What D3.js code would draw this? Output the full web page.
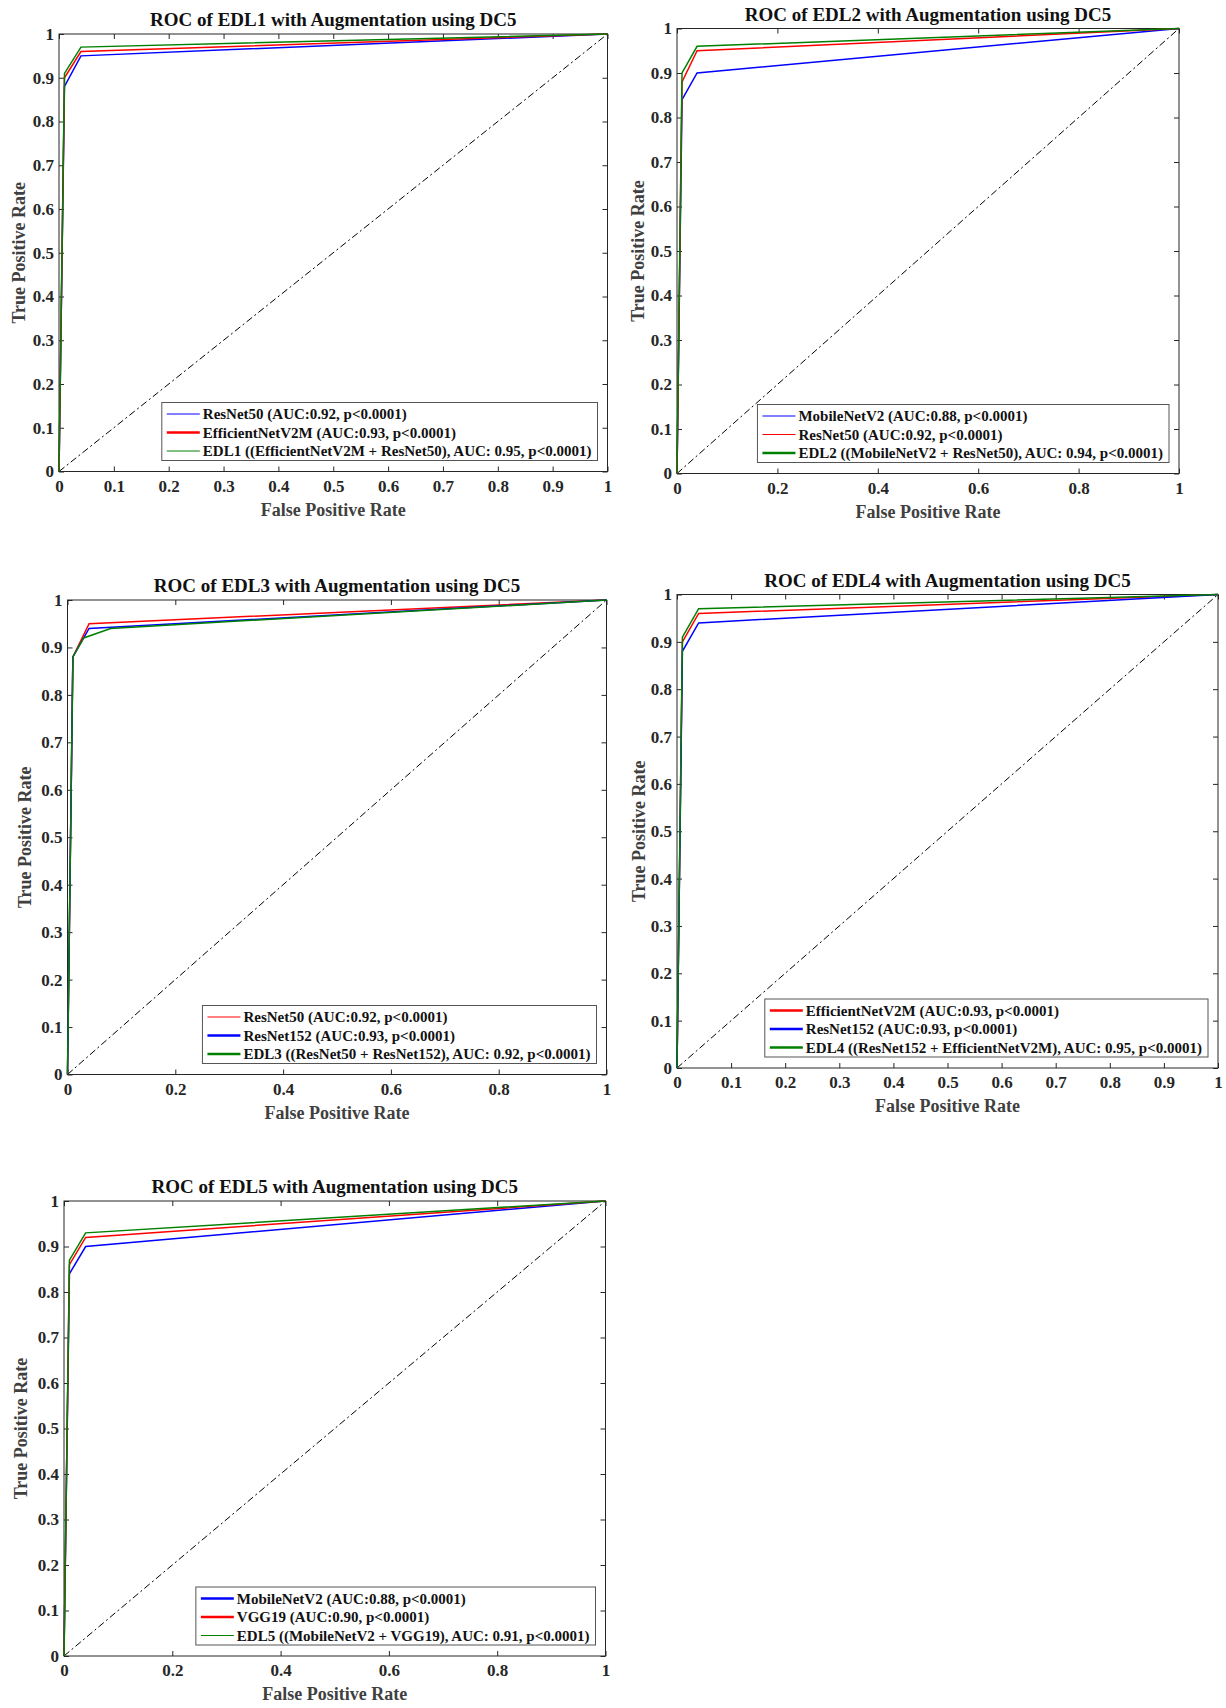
<!DOCTYPE html>
<html>
<head>
<meta charset="utf-8">
<script src="https://cdn.jsdelivr.net/npm/d3@7"></script>
<style>
body { margin: 0; background: #fff; }
svg { display: block; font-family: "Liberation Serif", "Times New Roman", serif; font-weight: bold; }
</style>
</head>
<body>
<script>
// ---- data ----
var titles = [
	'ROC of EDL1 with Augmentation using DC5',
	'ROC of EDL2 with Augmentation using DC5',
	'ROC of EDL3 with Augmentation using DC5',
	'ROC of EDL4 with Augmentation using DC5',
	'ROC of EDL5 with Augmentation using DC5'
]
var xTicksTenth = [0, 0.1, 0.2, 0.3, 0.4, 0.5, 0.6, 0.7, 0.8, 0.9, 1]
var xTicksFifth = [0, 0.2, 0.4, 0.6, 0.8, 1]
var yTicks = [0, 0.1, 0.2, 0.3, 0.4, 0.5, 0.6, 0.7, 0.8, 0.9, 1]
var diagonal = [[0, 0], [1, 1]]

var edl1Names = ['ResNet50 (AUC:0.92, p<0.0001)', 'EfficientNetV2M (AUC:0.93, p<0.0001)', 'EDL1 ((EfficientNetV2M + ResNet50), AUC: 0.95, p<0.0001)']
var edl1Fpr = [[0, 0.01, 0.04, 1], [0, 0.01, 0.04, 1], [0, 0.01, 0.04, 1]]
var edl1Tpr = [[0, 0.88, 0.95, 1], [0, 0.90, 0.96, 1], [0, 0.91, 0.97, 1]]

var edl2Names = ['MobileNetV2 (AUC:0.88, p<0.0001)', 'ResNet50 (AUC:0.92, p<0.0001)', 'EDL2 ((MobileNetV2 + ResNet50), AUC: 0.94, p<0.0001)']
var edl2Fpr = [[0, 0.01, 0.04, 1], [0, 0.01, 0.04, 1], [0, 0.01, 0.04, 1]]
var edl2Tpr = [[0, 0.84, 0.90, 1], [0, 0.88, 0.95, 1], [0, 0.90, 0.96, 1]]

var edl3Names = ['ResNet50 (AUC:0.92, p<0.0001)', 'ResNet152 (AUC:0.93, p<0.0001)', 'EDL3 ((ResNet50 + ResNet152), AUC: 0.92, p<0.0001)']
var edl3Fpr = [[0, 0.01, 0.04, 1], [0, 0.01, 0.04, 1], [0, 0.01, 0.03, 0.08, 1]]
var edl3Tpr = [[0, 0.88, 0.95, 1], [0, 0.88, 0.94, 1], [0, 0.88, 0.92, 0.94, 1]]

var edl4Names = ['EfficientNetV2M (AUC:0.93, p<0.0001)', 'ResNet152 (AUC:0.93, p<0.0001)', 'EDL4 ((ResNet152 + EfficientNetV2M), AUC: 0.95, p<0.0001)']
var edl4Fpr = [[0, 0.01, 0.04, 1], [0, 0.01, 0.04, 1], [0, 0.01, 0.04, 1]]
var edl4Tpr = [[0, 0.90, 0.96, 1], [0, 0.88, 0.94, 1], [0, 0.91, 0.97, 1]]

var edl5Names = ['MobileNetV2 (AUC:0.88, p<0.0001)', 'VGG19 (AUC:0.90, p<0.0001)', 'EDL5 ((MobileNetV2 + VGG19), AUC: 0.91, p<0.0001)']
var edl5Fpr = [[0, 0.01, 0.04, 1], [0, 0.01, 0.04, 1], [0, 0.01, 0.04, 1]]
var edl5Tpr = [[0, 0.84, 0.90, 1], [0, 0.86, 0.92, 1], [0, 0.87, 0.93, 1]]

// ---- layout ----
var BLUE = '#0000ff', RED = '#ff0000', GREEN = '#008000'
var panels = [
	{ title: titles[0], names: edl1Names, fpr: edl1Fpr, tpr: edl1Tpr, xt: xTicksTenth,
		l: 59, t: 34, r: 607.5, b: 471.5, colors: [BLUE, RED, GREEN], legW: [1, 2.5, 1], ylab: 40 },
	{ title: titles[1], names: edl2Names, fpr: edl2Fpr, tpr: edl2Tpr, xt: xTicksFifth,
		l: 677, t: 28.5, r: 1179, b: 473.5, colors: [BLUE, RED, GREEN], legW: [1, 1, 2.5], ylab: 39 },
	{ title: titles[2], names: edl3Names, fpr: edl3Fpr, tpr: edl3Tpr, xt: xTicksFifth,
		l: 67.5, t: 600, r: 606.5, b: 1074.5, colors: [RED, BLUE, GREEN], legW: [1, 2.5, 2.5], ylab: 43 },
	{ title: titles[3], names: edl4Names, fpr: edl4Fpr, tpr: edl4Tpr, xt: xTicksTenth,
		l: 677, t: 594.5, r: 1218, b: 1068, colors: [RED, BLUE, GREEN], legW: [2.5, 2.5, 2.5], ylab: 38 },
	{ title: titles[4], names: edl5Names, fpr: edl5Fpr, tpr: edl5Tpr, xt: xTicksFifth,
		l: 64, t: 1201, r: 605.5, b: 1656, colors: [BLUE, RED, GREEN], legW: [2.5, 2.5, 1], ylab: 43 }
]

var ink = '#262626'
var svg = d3.select('body').append('svg')
	.attr('width', 1226)
	.attr('height', 1708)

panels.forEach(function (p) {
	var w = p.r - p.l, h = p.b - p.t
	var x = d3.scaleLinear().domain([0, 1]).range([0, w])
	var y = d3.scaleLinear().domain([0, 1]).range([h, 0])
	var g = svg.append('g').attr('transform', 'translate(' + p.l + ',' + p.t + ')')

	var fmt = function (d) { return d3.format('')(+d.toFixed(1)) }

	// axes, ticks inward like MATLAB
	var xb = g.append('g').attr('transform', 'translate(0,' + h + ')')
		.call(d3.axisBottom(x).tickValues(p.xt).tickFormat(fmt).tickSizeInner(-5).tickSizeOuter(0).tickPadding(8))
	var xt = g.append('g')
		.call(d3.axisTop(x).tickValues(p.xt).tickFormat('').tickSizeInner(-5).tickSizeOuter(0))
	var yl = g.append('g')
		.call(d3.axisLeft(y).tickValues(yTicks).tickFormat(fmt).tickSizeInner(-5).tickSizeOuter(0).tickPadding(5))
	var yr = g.append('g').attr('transform', 'translate(' + w + ',0)')
		.call(d3.axisRight(y).tickValues(yTicks).tickFormat('').tickSizeInner(-5).tickSizeOuter(0))
	;[xb, xt, yl, yr].forEach(function (a) {
		a.select('.domain').remove()
		a.selectAll('line').attr('stroke', ink)
		a.selectAll('text')
			.attr('fill', ink)
			.style('font-family', '"Liberation Serif", "Times New Roman", serif')
			.style('font-weight', 'bold')
			.style('font-size', '17px')
	})

	g.append('rect')
		.attr('width', w).attr('height', h)
		.attr('fill', 'none').attr('stroke', ink).attr('stroke-width', 1)

	// chance line
	var line = d3.line().x(function (d) { return x(d[0]) }).y(function (d) { return y(d[1]) })
	g.append('path')
		.attr('d', line(diagonal))
		.attr('fill', 'none').attr('stroke', '#000').attr('stroke-width', 1)
		.attr('stroke-dasharray', '7,3,2,3')

	// curves
	p.fpr.forEach(function (fx, i) {
		var pts = fx.map(function (v, k) { return [v, p.tpr[i][k]] })
		g.append('path')
			.attr('d', line(pts))
			.attr('fill', 'none')
			.attr('stroke', p.colors[i])
			.attr('stroke-width', 1.5)
	})

	// title and axis labels
	g.append('text')
		.attr('x', w / 2).attr('y', -8)
		.attr('text-anchor', 'middle')
		.attr('fill', '#111')
		.style('font-size', '19px')
		.text(p.title)
	g.append('text')
		.attr('x', w / 2).attr('y', h + 44)
		.attr('text-anchor', 'middle')
		.attr('fill', '#404040')
		.style('font-size', '18px')
		.text('False Positive Rate')
	g.append('text')
		.attr('transform', 'translate(' + (-p.ylab) + ',' + (h / 2) + ') rotate(-90)')
		.attr('dy', '0.35em')
		.attr('text-anchor', 'middle')
		.attr('fill', '#404040')
		.style('font-size', '18px')
		.text('True Positive Rate')

	// legend in the lower right corner
	var leg = g.append('g')
	var box = leg.append('rect').attr('fill', '#fff').attr('stroke', '#555').attr('stroke-width', 1)
	var maxLen = 0
	p.names.forEach(function (n, i) {
		var ty = 11.5 + i * 18.5
		leg.append('line')
			.attr('x1', 5).attr('x2', 38).attr('y1', ty).attr('y2', ty)
			.attr('stroke', p.colors[i]).attr('stroke-width', p.legW[i])
		var t = leg.append('text')
			.attr('x', 41).attr('y', ty).attr('dy', '0.35em')
			.attr('fill', '#111')
			.style('font-size', '15px')
			.text(n)
		maxLen = Math.max(maxLen, t.node().getComputedTextLength())
	})
	var lw = 41 + maxLen + 6, lh = 58
	box.attr('width', lw).attr('height', lh)
	leg.attr('transform', 'translate(' + (w - 10 - lw) + ',' + (h - 11 - lh) + ')')
})
</script>
</body>
</html>
